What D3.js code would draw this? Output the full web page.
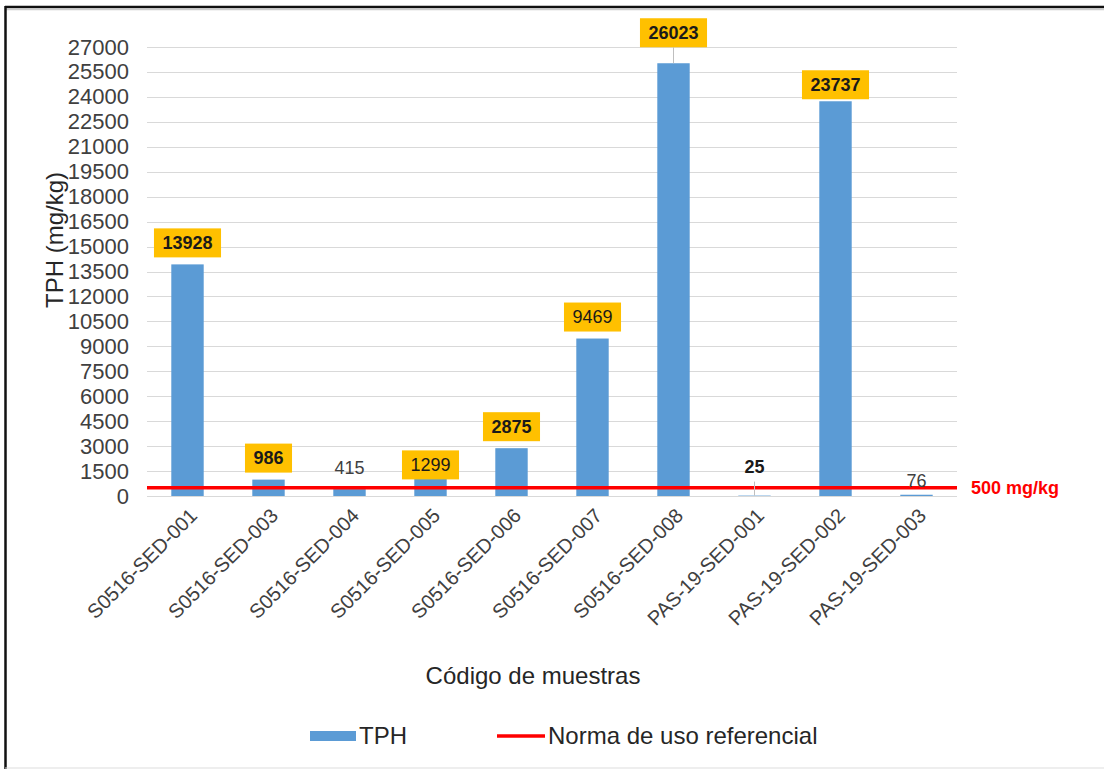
<!DOCTYPE html>
<html>
<head>
<meta charset="utf-8">
<script src="https://cdn.jsdelivr.net/npm/d3@7"></script>
<style>
  html, body { margin: 0; padding: 0; background: #fff; }
  svg { display: block; font-family: "Liberation Sans", Arial, sans-serif; }
</style>
</head>
<body>
<svg id="chart" width="1104" height="769"></svg>
<script>
// Sample codes and TPH concentrations (mg/kg)
const categories = [
  "S0516-SED-001", "S0516-SED-003", "S0516-SED-004", "S0516-SED-005",
  "S0516-SED-006", "S0516-SED-007", "S0516-SED-008", "PAS-19-SED-001",
  "PAS-19-SED-002", "PAS-19-SED-003"
];
const tphValues = [13928, 986, 415, 1299, 2875, 9469, 26023, 25, 23737, 76];
const yTicks = [0, 1500, 3000, 4500, 6000, 7500, 9000, 10500, 12000, 13500,
  15000, 16500, 18000, 19500, 21000, 22500, 24000, 25500, 27000];
const normaValue = 500;
const normaLabel = "500 mg/kg";
const seriesNames = ["TPH", "Norma de uso referencial"];
const xTitle = "Código de muestras";
const yTitle = "TPH (mg/kg)";

// Label styling per sample: boxed (highlighted) or plain, bold or regular,
// plus small vertical nudges for labels that were moved by hand.
const labelStyle = {
  "S0516-SED-001": { box: true, bold: true },
  "S0516-SED-003": { box: true, bold: true },
  "S0516-SED-004": { box: false, bold: false },
  "S0516-SED-005": { box: true, bold: false, dy: 12 },
  "S0516-SED-006": { box: true, bold: true },
  "S0516-SED-007": { box: true, bold: false },
  "S0516-SED-008": { box: true, bold: true, dy: -9, leader: true },
  "PAS-19-SED-001": { box: false, bold: true, dy: -7, leader: true },
  "PAS-19-SED-002": { box: true, bold: true, dy: 5 },
  "PAS-19-SED-003": { box: false, bold: false, dy: 7 }
};

const svg = d3.select("#chart");
const margin = { left: 147, right: 147, top: 47, bottom: 273 };
const W = 1104, H = 769;
const plotW = 957 - margin.left;

const x = d3.scaleBand().domain(categories).range([margin.left, 957]).paddingInner(0.6).paddingOuter(0.3);
const y = d3.scaleLinear().domain([0, 27000]).range([496, 47]);

// Frame
svg.append("line").attr("x1", 5).attr("x2", W).attr("y1", 7).attr("y2", 7)
  .attr("stroke", "#111").attr("stroke-width", 2.5);
svg.append("line").attr("x1", 6).attr("x2", W).attr("y1", 9.5).attr("y2", 9.5)
  .attr("stroke", "#ccc").attr("stroke-width", 1.5);
svg.append("line").attr("x1", 5.5).attr("x2", 5.5).attr("y1", 6).attr("y2", H)
  .attr("stroke", "#111").attr("stroke-width", 2.5);
svg.append("line").attr("x1", 5).attr("x2", W).attr("y1", 768).attr("y2", 768)
  .attr("stroke", "#ddd").attr("stroke-width", 1);

// Gridlines
svg.append("g").selectAll("line").data(yTicks).join("line")
  .attr("x1", margin.left).attr("x2", 957)
  .attr("y1", d => Math.round(y(d)) + 0.5).attr("y2", d => Math.round(y(d)) + 0.5)
  .attr("stroke", "#d9d9d9").attr("stroke-width", 1);

// Y axis tick labels
const yAxis = d3.axisLeft(y).tickValues(yTicks).tickSize(0).tickPadding(0).tickFormat(d3.format("d"));
const gy = svg.append("g").attr("transform", "translate(129,0)").call(yAxis);
gy.select(".domain").remove();
gy.selectAll("text").attr("font-size", 22).attr("fill", "#404040")
  .attr("font-family", "'Liberation Sans', Arial, sans-serif");

// Bars
svg.append("g").selectAll("rect").data(categories).join("rect")
  .attr("x", d => x(d))
  .attr("width", x.bandwidth())
  .attr("y", (d, i) => y(tphValues[i]))
  .attr("height", (d, i) => y(0) - y(tphValues[i]))
  .attr("fill", "#5b9bd5");

// Reference line (norma)
svg.append("line").attr("x1", margin.left).attr("x2", 957)
  .attr("y1", y(normaValue)).attr("y2", y(normaValue))
  .attr("stroke", "#ff0000").attr("stroke-width", 3.5);
svg.append("text").attr("x", 971).attr("y", y(normaValue))
  .attr("dy", "0.35em").attr("font-size", 18).attr("font-weight", "bold")
  .attr("fill", "#ff0000").text(normaLabel);

// Data labels
const lbl = svg.append("g");
categories.forEach((c, i) => {
  const st = labelStyle[c];
  const cx = x(c) + x.bandwidth() / 2;
  const top = y(tphValues[i]);
  const cy = top - 21.5 + (st.dy || 0);
  const txt = String(tphValues[i]);
  if (st.leader) {
    lbl.append("line").attr("x1", cx).attr("x2", cx)
      .attr("y1", cy + 14.5).attr("y2", top)
      .attr("stroke", "#bfbfbf").attr("stroke-width", 1);
  }
  const t = lbl.append("text").attr("x", cx).attr("y", cy).attr("dy", "0.35em")
    .attr("text-anchor", "middle").attr("font-size", 18)
    .attr("font-weight", st.bold ? "bold" : "normal")
    .attr("fill", st.box ? "#1a1a1a" : (st.bold ? "#1a1a1a" : "#404040"))
    .text(txt);
  if (st.box) {
    const w = t.node().getComputedTextLength() + 17;
    lbl.insert("rect", () => t.node())
      .attr("x", cx - w / 2).attr("y", cy - 14.5).attr("width", w).attr("height", 29)
      .attr("fill", "#ffc000");
  }
});

// Category labels (rotated)
svg.append("g").selectAll("text").data(categories).join("text")
  .attr("transform", d => `translate(${x(d) + x.bandwidth() / 2 + 6},${512}) rotate(-45)`)
  .attr("text-anchor", "end").attr("dy", "0.35em")
  .attr("font-size", 20).attr("fill", "#404040").text(d => d);

// Axis titles
svg.append("text").attr("transform", "translate(63,240) rotate(-90)")
  .attr("text-anchor", "middle").attr("font-size", 24).attr("fill", "#262626").text(yTitle);
svg.append("text").attr("x", 533).attr("y", 676).attr("dy", "0.35em")
  .attr("text-anchor", "middle").attr("font-size", 24).attr("fill", "#262626").text(xTitle);

// Legend
const lg = svg.append("g");
lg.append("rect").attr("x", 310).attr("y", 731).attr("width", 46).attr("height", 10).attr("fill", "#5b9bd5");
lg.append("text").attr("x", 359).attr("y", 736).attr("dy", "0.35em")
  .attr("font-size", 24).attr("fill", "#262626").text(seriesNames[0]);
lg.append("line").attr("x1", 497).attr("x2", 545).attr("y1", 736).attr("y2", 736)
  .attr("stroke", "#ff0000").attr("stroke-width", 3.5);
lg.append("text").attr("x", 548).attr("y", 736).attr("dy", "0.35em")
  .attr("font-size", 24).attr("fill", "#262626").text(seriesNames[1]);
</script>
</body>
</html>
